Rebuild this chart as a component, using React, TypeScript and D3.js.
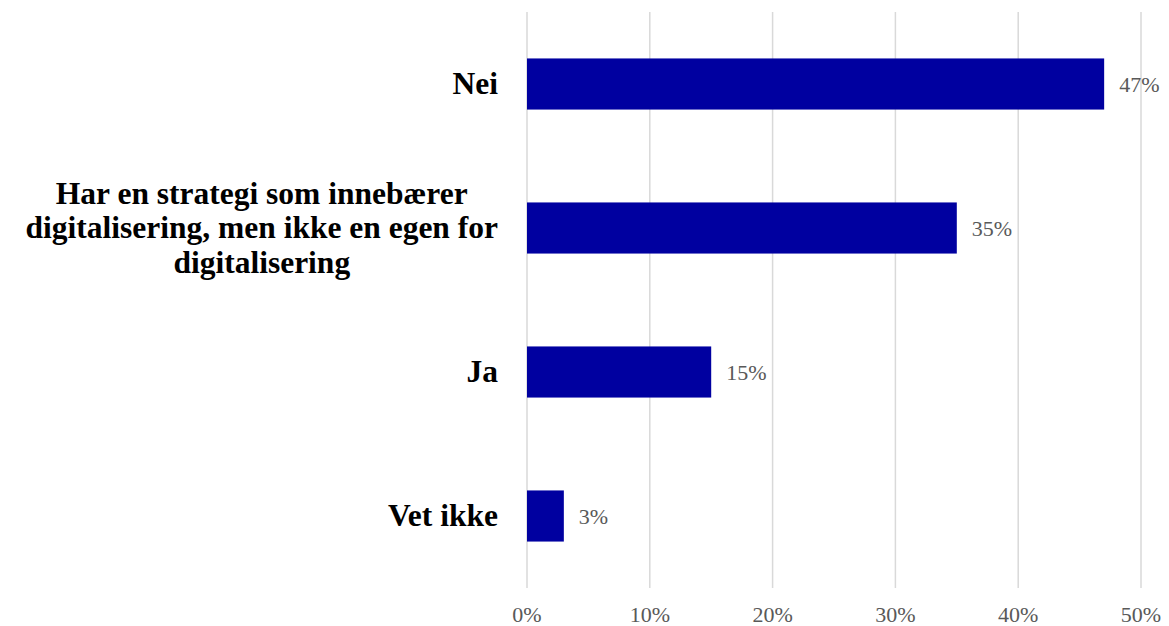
import React, { useEffect, useRef } from "react";
import * as d3 from "d3";

const categories = [
  "Nei",
  "Har en strategi som innebærer|digitalisering, men ikke en egen for|digitalisering",
  "Ja",
  "Vet ikke",
];
const values = [47, 35, 15, 3];
const tickValues = [0, 10, 20, 30, 40, 50];

const W = 1169;
const H = 626;
const M = { left: 527, right: 28, top: 12, bottom: 38 };

export default function App() {
  const ref = useRef<SVGSVGElement | null>(null);

  useEffect(() => {
    const svg = d3.select(ref.current);
    svg.selectAll("*").remove();

    const x = d3.scaleLinear().domain([0, 50]).range([M.left, W - M.right]);
    const y = d3
      .scaleBand<string>()
      .domain(categories)
      .range([M.top, H - M.bottom])
      .paddingInner(0.645)
      .paddingOuter(0.3225);

    const font = "'Liberation Serif', 'Times New Roman', serif";

    svg
      .append("g")
      .selectAll("line")
      .data(tickValues)
      .join("line")
      .attr("x1", (d) => x(d))
      .attr("x2", (d) => x(d))
      .attr("y1", M.top)
      .attr("y2", H - M.bottom)
      .attr("stroke", "#d9d9d9")
      .attr("stroke-width", 1.5);

    svg
      .append("g")
      .selectAll("text")
      .data(tickValues)
      .join("text")
      .attr("x", (d) => x(d))
      .attr("y", 622)
      .attr("text-anchor", "middle")
      .attr("font-family", font)
      .attr("font-size", 22)
      .attr("fill", "#595959")
      .text((d) => `${d}%`);

    svg
      .append("g")
      .selectAll("rect")
      .data(categories)
      .join("rect")
      .attr("x", x(0))
      .attr("y", (d) => y(d)!)
      .attr("width", (d, i) => x(values[i]) - x(0))
      .attr("height", y.bandwidth())
      .attr("fill", "#0000A0");

    svg
      .append("g")
      .selectAll("text")
      .data(categories)
      .join("text")
      .attr("x", (d, i) => x(values[i]) + 15)
      .attr("y", (d) => y(d)! + y.bandwidth() / 2 + 7.5)
      .attr("font-family", font)
      .attr("font-size", 22)
      .attr("fill", "#595959")
      .text((d, i) => `${values[i]}%`);

    const labelRight = 498;
    const lineH = 34.5;
    categories.forEach((c) => {
      const lines = c.split("|");
      const cy = y(c)! + y.bandwidth() / 2;
      const g = svg.append("g");
      const texts = lines.map((ln, i) =>
        g
          .append("text")
          .attr("y", cy + 10 + (i - (lines.length - 1) / 2) * lineH)
          .attr("font-family", font)
          .attr("font-size", 31.5)
          .attr("font-weight", "bold")
          .attr("fill", "#000")
          .text(ln)
      );
      const widths = texts.map((t) => (t.node() as SVGTextElement).getComputedTextLength());
      const maxW = Math.max(...widths);
      const center = labelRight - maxW / 2;
      texts.forEach((t) => t.attr("x", center).attr("text-anchor", "middle"));
    });
  }, []);

  return (
    <svg
      ref={ref}
      width={W}
      height={H}
      style={{ position: "absolute", left: 0, top: 0, background: "#fff" }}
    />
  );
}
